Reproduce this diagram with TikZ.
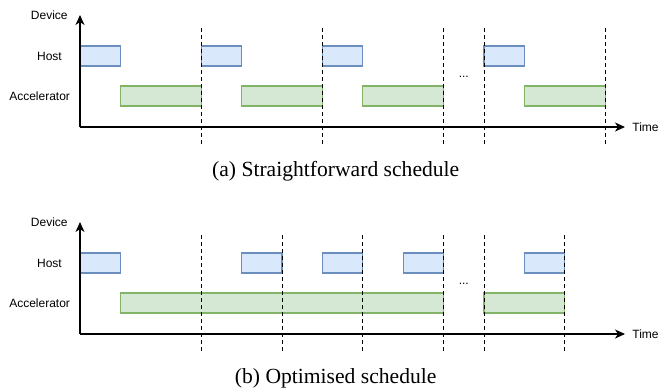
\documentclass[tikz,border=0pt]{standalone}
\usepackage{fontspec}
\setmainfont{Liberation Serif}
\setsansfont{Liberation Sans}
\usetikzlibrary{arrows.meta,positioning}
\definecolor{hostfill}{HTML}{DAE8FC}
\definecolor{hostline}{HTML}{6C8EBF}
\definecolor{accfill}{HTML}{D5E8D4}
\definecolor{accline}{HTML}{82B366}

\begin{document}
\begin{tikzpicture}[
        x=20.2pt, y=-0.5pt,
        lbl/.style={font=\sffamily\fontsize{6}{7}\selectfont, inner sep=0pt},
        caption/.style={font=\fontsize{10.8}{13}\selectfont, inner sep=0pt},
        hostbox/.style={draw=hostline, fill=hostfill, line width=0.6pt},
        accbox/.style={draw=accline, fill=accfill, line width=0.6pt},
        axis/.style={line width=0.6pt, -{Stealth[length=5pt,width=4.5pt,inset=1.5pt]}},
        sync/.style={line width=0.5pt, dash pattern=on 2pt off 1.5pt}
    ]
    \useasboundingbox (-40pt,0pt) rectangle (294pt,-194pt);

    % (a) one step after the other
    \begin{scope}
        \foreach \s/\e in {0/1,3/4,6/7,10/11}
            \draw[hostbox] (\s,46) rectangle (\e,66);
        \foreach \s/\e in {1/3,4/6,7/9,11/13}
            \draw[accbox] (\s,86) rectangle (\e,106);
        \foreach \t in {3,6,9,10,13}
            \draw[sync] (\t,28) -- (\t,147);
        \coordinate (origA) at (0,127);
        \coordinate (devA) at (0,15);
        \coordinate (timeA) at (13.49,127);
        \draw[axis] (origA) -- (devA);
        \draw[axis] (origA) -- (timeA);
        \node[lbl, left=6pt of devA] (devlblA) {Device};
        \node[lbl] (hostlblA) at (-0.755,56) {Host};
        \node[lbl] (acclblA) at (-1.0,96) {Accelerator};
        \node[lbl, right=3.5pt of timeA] (timelblA) {Time};
        \node[lbl] (dotsA) at (9.5,77) {...};
        \node[caption] (capA) at (6.33,171) {(a) Straightforward schedule};
    \end{scope}

    % (b) host overlaps the accelerator
    \begin{scope}[yshift=-103.5pt]
        \foreach \s/\e in {0/1,4/5,6/7,8/9,11/12}
            \draw[hostbox] (\s,46) rectangle (\e,66);
        \foreach \s/\e in {1/9,10/12}
            \draw[accbox] (\s,86) rectangle (\e,106);
        \foreach \t in {3,5,7,9,10,12}
            \draw[sync] (\t,28) -- (\t,147);
        \coordinate (origB) at (0,127);
        \coordinate (devB) at (0,15);
        \coordinate (timeB) at (13.49,127);
        \draw[axis] (origB) -- (devB);
        \draw[axis] (origB) -- (timeB);
        \node[lbl, left=6pt of devB] (devlblB) {Device};
        \node[lbl] (hostlblB) at (-0.755,56) {Host};
        \node[lbl] (acclblB) at (-1.0,96) {Accelerator};
        \node[lbl, right=3.5pt of timeB] (timelblB) {Time};
        \node[lbl] (dotsB) at (9.5,77) {...};
        \node[caption] (capB) at (6.33,171) {(b) Optimised schedule};
    \end{scope}
\end{tikzpicture}
\end{document}
